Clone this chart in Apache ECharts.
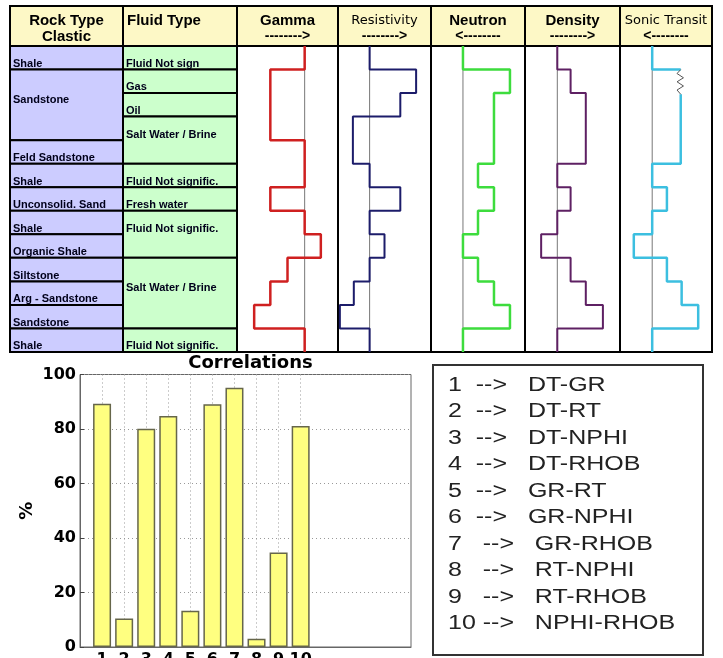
<!DOCTYPE html>
<html><head><meta charset="utf-8">
<script src="https://cdn.jsdelivr.net/npm/echarts@6/dist/echarts.min.js"></script>
<style>html,body{margin:0;padding:0;background:#fff}#c{width:723px;height:658px}</style>
</head><body><div id="c"></div>
<script>
// ---------------- data ----------------
const rockNames = ['Shale','Sandstone','Feld Sandstone','Shale','Unconsolid. Sand','Shale','Organic Shale','Siltstone','Arg - Sandstone','Sandstone','Shale'];
const rockUnits = [1,3,1,1,1,1,1,1,1,1,1];
const fluidNames = ['Fluid Not sign','Gas','Oil','Salt Water / Brine','Fluid Not signific.','Fresh water','Fluid Not signific.','Salt Water / Brine','Fluid Not signific.'];
const fluidUnits = [1,1,1,2,1,1,2,3,1];
const trackNames = ['Gamma','Resistivity','Neutron','Density','Sonic Transit'];
const trackArrows = ['-------->','-------->','<--------','-------->','<--------'];
// log responses per depth unit (13 units), in % of track width
const gammaLog       = [67,33,33,33,67,67,33,67,83,50,33,17,67];
const resistivityLog = [34,84,67,16,16,34,67,34,50,34,17,2,34];
const neutronLog     = [34,84,67,67,67,50,67,50,34,50,67,84,34];
const densityLog     = [34,48,64,64,64,34,48,34,17,48,64,82,34];
const sonicLog       = [35,66,66,66,66,35,51,35,15,51,67,85,35];
const shaleBaseline  = [67,34,34,34,35];
const sonicCycleSkip = [[66,1.0],[62,1.17],[69,1.35],[62,1.52],[69,1.7],[62,1.87],[66,2.05]];
// correlations
const xSlots = ['0','1','2','3','4','5','6','7','8','9','10','11','12','13','14','15'];
const corrIds = ['1','2','3','4','5','6','7','8','9','10'];
const corrValues = [89.3,10.5,80.1,84.8,13.3,89.1,95.1,3.0,34.7,81.1];
const legendLines = ['1  -->   DT-GR','2  -->   DT-RT','3  -->   DT-NPHI','4  -->   DT-RHOB','5  -->   GR-RT','6  -->   GR-NPHI','7   -->   GR-RHOB','8   -->   RT-NPHI','9   -->   RT-RHOB','10 -->   NPHI-RHOB'];

// ---------------- layout ----------------
const colEdges = [10,123,237,338,431,525,620,712];
const HEAD_TOP = 6, BODY_TOP = 46, BODY_H = 306, UNITS = 13;
const trackColors = ['#cf2020','#1c1c6a','#3ddc3d','#5e2063','#3cbfe0'];
const trackWidths = [2.5,2,2.5,2,2.5];

function stepPoints(vals, start) {
  const pts = [];
  vals.forEach((v,i)=>{ pts.push([v, start+i],[v, start+i+1]); });
  return pts;
}
function cells(units) {
  let c = 0;
  return units.map(u => { const o = {value:[c, c+u]}; c += u; return o; });
}

const grids = [], xAxes = [], yAxes = [], series = [];
// rock + fluid columns
for (let k=0;k<2;k++){
  grids.push({left:colEdges[k], top:BODY_TOP, width:colEdges[k+1]-colEdges[k], height:BODY_H, containLabel:false, outerBoundsMode:'none'});
  xAxes.push({type:'value', gridIndex:k, min:0, max:1, show:false});
  yAxes.push({type:'value', gridIndex:k, min:0, max:UNITS, inverse:true, show:false});
}
function cellSeries(k, names, units, fill){
  return {
    type:'custom', xAxisIndex:k, yAxisIndex:k, data:cells(units), z:3,
    renderItem:(params, api)=>{
      const top = api.value(0), bot = api.value(1);
      const p0 = api.coord([0, top]), p1 = api.coord([1, bot]);
      const off = (bot-top) >= 3 ? 1.3 : 0.76;
      const ty = api.coord([0, top+off])[1];
      return {type:'group', children:[
        {type:'rect', shape:{x:p0[0], y:p0[1], width:p1[0]-p0[0], height:p1[1]-p0[1]},
         style:{fill:fill, stroke:'#000', lineWidth:2}},
        {type:'text', x:p0[0]+3, y:ty,
         style:{text:names[params.dataIndex], font:'bold 11px "Liberation Sans", Arial', fill:'#00001a',
                align:'left', verticalAlign:'middle', textAlign:'left', textVerticalAlign:'middle'}}
      ]};
    }
  };
}
series.push(cellSeries(0, rockNames, rockUnits, '#ccccff'));
series.push(cellSeries(1, fluidNames, fluidUnits, '#ccffcc'));

// log tracks
const logs = [gammaLog, resistivityLog, neutronLog, densityLog, sonicLog];
for (let t=0;t<5;t++){
  const k = t+2;
  grids.push({left:colEdges[k], top:BODY_TOP, width:colEdges[k+1]-colEdges[k], height:BODY_H, outerBoundsMode:'none',
              show:true, backgroundColor:'#fff', borderColor:'#000', borderWidth:2});
  xAxes.push({type:'value', gridIndex:k, min:0, max:100, show:false});
  yAxes.push({type:'value', gridIndex:k, min:0, max:UNITS, inverse:true, show:false});
  series.push({type:'line', xAxisIndex:k, yAxisIndex:k, symbol:'none', silent:true, z:2,
    data:[[shaleBaseline[t],0],[shaleBaseline[t],UNITS]], lineStyle:{color:'#777', width:1}});
  const lineBase = {type:'line', xAxisIndex:k, yAxisIndex:k, symbol:'none', silent:true, z:3,
    lineStyle:{color:trackColors[t], width:trackWidths[t]}};
  if (t < 4) {
    series.push(Object.assign({}, lineBase, {data: stepPoints(logs[t], 0)}));
  } else {
    const first = sonicCycleSkip[0], last = sonicCycleSkip[sonicCycleSkip.length-1];
    series.push(Object.assign({}, lineBase, {data: stepPoints(sonicLog.slice(0,1),0).concat([first])}));
    series.push(Object.assign({}, lineBase, {data: [last].concat(stepPoints(sonicLog.slice(2),2))}));
    series.push({type:'line', xAxisIndex:k, yAxisIndex:k, symbol:'none', silent:true, z:3,
      data: sonicCycleSkip, lineStyle:{color:'#555', width:1}});
  }
}

// correlation bar chart
const BI = 7;
const slotFilter = (idx)=> idx>=1 && idx<=10;
grids.push({left:80, top:374.5, width:331, height:272.5, outerBoundsMode:'none', containLabel:false,
  show:true, borderColor:'#666', borderWidth:1, backgroundColor:'#fff'});
xAxes.push({type:'category', gridIndex:BI, data:xSlots, boundaryGap:false,
  axisLine:{lineStyle:{color:'#666', width:1}},
  axisTick:{inside:true, length:4, interval:slotFilter, lineStyle:{color:'#444'}},
  axisLabel:{interval:0, formatter:(v)=> corrIds.indexOf(v)>=0 ? v : '', margin:5,
    color:'#000', fontFamily:'DejaVu Sans', fontWeight:'bold', fontSize:16},
  splitLine:{show:true, interval:slotFilter, lineStyle:{color:'#999', type:[1,3], width:1}}});
yAxes.push({type:'value', gridIndex:BI, min:0, max:100, interval:20,
  name:'%', nameLocation:'middle', nameGap:44, nameRotate:90,
  nameTextStyle:{color:'#000', fontFamily:'DejaVu Sans', fontWeight:'bold', fontSize:18},
  axisLine:{show:true, lineStyle:{color:'#666', width:1}},
  axisTick:{show:true, inside:true, length:4, lineStyle:{color:'#444'}},
  axisLabel:{margin:4, color:'#000', fontFamily:'DejaVu Sans', fontWeight:'bold', fontSize:16},
  splitLine:{show:true, lineStyle:{color:'#999', type:[1,3], width:1}}});
series.push({type:'bar', xAxisIndex:BI, yAxisIndex:BI, barWidth:18,
  data: corrValues.map((v,i)=>[corrIds[i], v]),
  itemStyle:{color:'#ffff80', borderColor:'#66664a', borderWidth:1.5}});

// ---------------- header + legend graphics ----------------
const g = [];
const hfont = 'bold 15px "Liberation Sans", Arial';
for (let j=0;j<colEdges.length-1;j++){
  g.push({type:'rect', shape:{x:colEdges[j], y:HEAD_TOP, width:colEdges[j+1]-colEdges[j], height:BODY_TOP-HEAD_TOP},
    style:{fill:'#fdf8c6', stroke:'#000', lineWidth:2}, z:1});
}
function txt(x,y,text,font,align,extra){
  return Object.assign({type:'text', x:x, y:y, z:2,
    style:{text:text, font:font, fill:'#000', align:align, verticalAlign:'middle', textAlign:align, textVerticalAlign:'middle'}}, extra||{});
}
g.push(txt((colEdges[0]+colEdges[1])/2, 21, 'Rock Type', hfont, 'center'));
g.push(txt((colEdges[0]+colEdges[1])/2, 37, 'Clastic', hfont, 'center'));
g.push(txt(colEdges[1]+4, 21, 'Fluid Type', hfont, 'left'));
trackNames.forEach((n,t)=>{
  const cx = (colEdges[t+2]+colEdges[t+3])/2;
  const f = (n==='Resistivity' || n==='Sonic Transit') ? '13px "DejaVu Sans"' : hfont;
  g.push(txt(cx, 21, n, f, 'center'));
  g.push(txt(cx, 36, trackArrows[t], 'bold 14px "Liberation Sans", Arial', 'center'));
});
// legend box
g.push({type:'rect', shape:{x:433, y:365, width:270, height:290}, style:{fill:'#fff', stroke:'#333', lineWidth:2}, z:1});
legendLines.forEach((s,i)=>{
  g.push({type:'text', x:448, y:385 + i*26.5, scaleX:1.25, z:2,
    style:{text:s, font:'20px "Liberation Sans", Arial', fill:'#222', align:'left', verticalAlign:'middle', textAlign:'left', textVerticalAlign:'middle'}});
});

const option = {
  animation:false,
  backgroundColor:'#fff',
  title:{text:'Correlations', left:245.5, textAlign:'center', top:349,
    textStyle:{fontFamily:'DejaVu Sans', fontWeight:'bold', fontSize:18, color:'#000'}},
  grid:grids, xAxis:xAxes, yAxis:yAxes, series:series,
  graphic:{elements:g}
};
const chart = echarts.init(document.getElementById('c'), null, {renderer:'canvas'});
chart.setOption(option);
</script></body></html>
